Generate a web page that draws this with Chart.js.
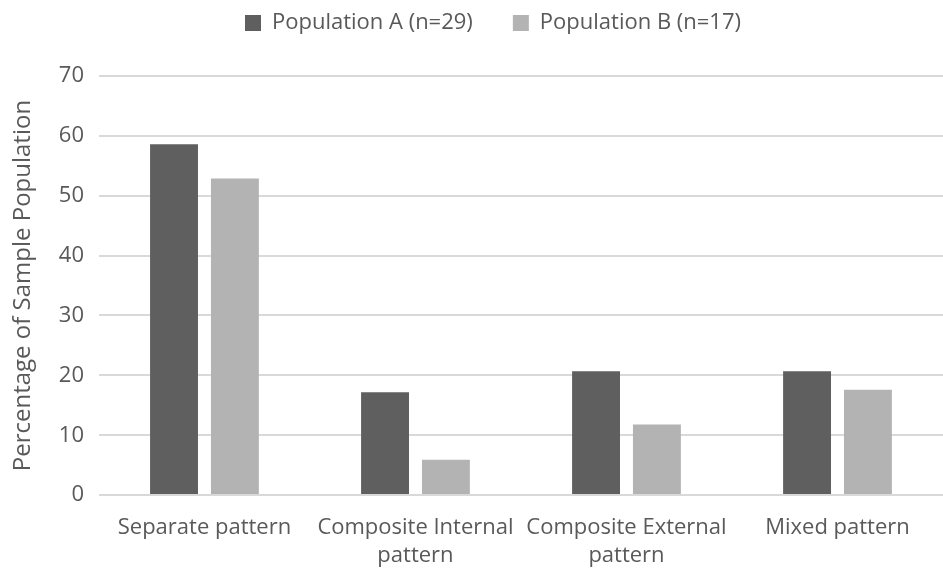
<!DOCTYPE html>
<html>
<head>
<meta charset="utf-8">
<script src="https://cdn.jsdelivr.net/npm/chart.js@4.4.0/dist/chart.umd.min.js"></script>
<style>
  html, body { margin: 0; padding: 0; background: #fff; }
  #wrap { width: 943px; height: 570px; }
</style>
</head>
<body>
<div id="wrap"><canvas id="patternChart"></canvas></div>
<script>
const categories = [
  'Separate pattern',
  ['Composite Internal', 'pattern'],
  ['Composite External', 'pattern'],
  'Mixed pattern'
];
const populationA = [58.6, 17.2, 20.7, 20.7];
const populationB = [52.9, 5.9, 11.8, 17.6];
const yTicks = [0, 10, 20, 30, 40, 50, 60, 70];

const textColor = '#595959';
const fontFamily = "'Open Sans', 'Liberation Sans', sans-serif";

// give the legend a fixed height so the plot starts lower, and nudge it right a bit
const legendHeight = {
  id: 'legendHeight',
  beforeInit(chart) {
    const fit = chart.legend.fit;
    chart.legend.fit = function() {
      fit.bind(chart.legend)();
      this.height = 104;
    };
  },
  afterLayout(chart) {
    chart.legend.left += 17;
    chart.legend.right += 17;
  }
};

const ctx = document.getElementById('patternChart').getContext('2d');
new Chart(ctx, {
  type: 'bar',
  data: {
    labels: categories,
    datasets: [
      {
        label: 'Population A (n=29)',
        data: populationA,
        backgroundColor: '#5f5f5f',
        categoryPercentage: 0.577,
        barPercentage: 0.787
      },
      {
        label: 'Population B (n=17)',
        data: populationB,
        backgroundColor: '#b3b3b3',
        categoryPercentage: 0.577,
        barPercentage: 0.787
      }
    ]
  },
  plugins: [legendHeight],
  options: {
    responsive: true,
    maintainAspectRatio: false,
    animation: false,
    layout: {
      padding: { left: 9, right: 0, top: -28, bottom: 0 }
    },
    plugins: {
      legend: {
        position: 'top',
        labels: {
          color: textColor,
          font: { family: fontFamily, size: 22 },
          boxWidth: 16,
          boxHeight: 16,
          padding: 40
        }
      },
      tooltip: { enabled: false }
    },
    scales: {
      x: {
        grid: { display: false, drawTicks: false },
        border: { display: false },
        afterFit: axis => { axis.height -= 19; },
        ticks: {
          color: textColor,
          font: { family: fontFamily, size: 22, lineHeight: 1.27 },
          maxRotation: 0,
          padding: 19
        }
      },
      y: {
        min: 0,
        max: 70,
        afterBuildTicks: axis => {
          axis.ticks = yTicks.map(v => ({ value: v }));
        },
        grid: { color: '#d9d9d9', lineWidth: 2, drawTicks: false },
        border: { display: false },
        ticks: {
          color: textColor,
          font: { family: fontFamily, size: 22 },
          padding: 15
        },
        title: {
          display: true,
          text: 'Percentage of Sample Population',
          color: textColor,
          font: { family: fontFamily, size: 24 },
          padding: { top: 0, bottom: 6 }
        }
      }
    }
  }
});
</script>
</body>
</html>
